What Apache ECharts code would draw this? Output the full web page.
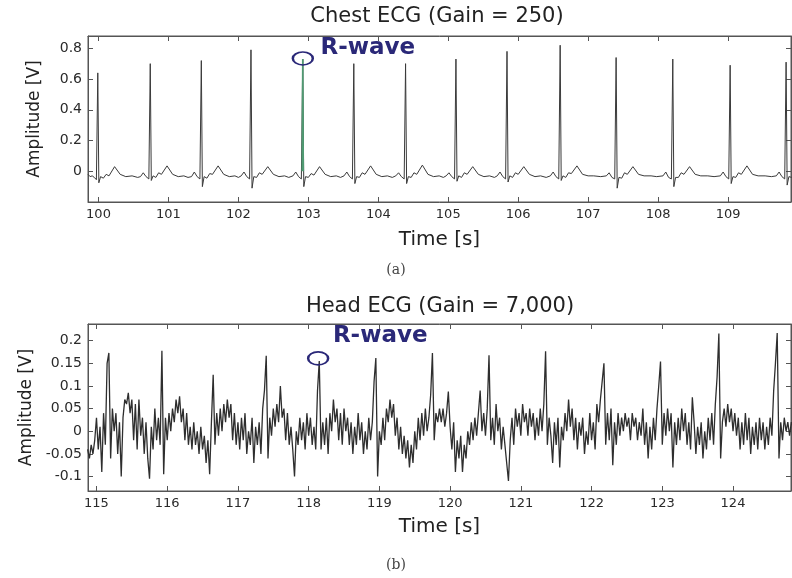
<!DOCTYPE html>
<html>
<head>
<meta charset="utf-8">
<script src="https://cdn.jsdelivr.net/npm/echarts@6/dist/echarts.min.js"></script>
<style>html,body{margin:0;padding:0;background:#fff}#c{width:792px;height:578px}</style>
</head>
<body>
<div id="c"></div>
<script>
// ---------- Data ----------
const chestXTicks = [100, 101, 102, 103, 104, 105, 106, 107, 108, 109];
const chestYTicks = [0, 0.2, 0.4, 0.6, 0.8];
const headXTicks = [115, 116, 117, 118, 119, 120, 121, 122, 123, 124];
const headYTicks = [-0.1, -0.05, 0, 0.05, 0.1, 0.15, 0.2];

// Chest ECG: [time s, amplitude V]
const chestEcg = [
  [99.85,-0.02],[99.88,-0.035],[99.91,-0.03],[99.94,-0.04],[99.97,-0.055],[99.99,0.64],[100.005,-0.075],[100.03,-0.035],[100.07,-0.045],[100.11,-0.02],[100.15,-0.03],[100.23,0.03],[100.31,-0.02],[100.39,-0.035],[100.48,-0.03],[100.56,-0.04],
  [100.60,-0.035],[100.64,-0.01],[100.68,-0.035],[100.72,-0.05],[100.74,0.70],[100.755,-0.06],[100.78,-0.03],[100.82,-0.04],[100.86,-0.01],[100.90,-0.02],[100.98,0.035],[101.06,-0.02],[101.14,-0.035],[101.22,-0.03],[101.28,-0.04],
  [101.33,-0.035],[101.37,-0.005],[101.41,-0.035],[101.45,-0.05],[101.47,0.72],[101.485,-0.10],[101.51,-0.035],[101.55,-0.045],[101.59,-0.015],[101.63,-0.02],[101.71,0.035],[101.79,-0.02],[101.87,-0.035],[101.95,-0.03],[102.00,-0.04],
  [102.04,-0.03],[102.08,-0.005],[102.12,-0.035],[102.16,-0.05],[102.18,0.79],[102.195,-0.11],[102.22,-0.035],[102.26,-0.04],[102.30,-0.01],[102.34,-0.02],[102.42,0.03],[102.50,-0.02],[102.58,-0.035],[102.66,-0.03],[102.72,-0.04],
  [102.78,-0.03],[102.82,-0.005],[102.86,-0.035],[102.90,-0.05],[102.92,0.73],[102.935,-0.10],[102.96,-0.035],[103.00,-0.04],[103.04,-0.015],[103.08,-0.025],[103.16,0.03],[103.24,-0.02],[103.32,-0.035],[103.40,-0.03],[103.46,-0.04],
  [103.51,-0.03],[103.55,-0.005],[103.59,-0.035],[103.63,-0.05],[103.65,0.70],[103.665,-0.08],[103.69,-0.035],[103.73,-0.04],[103.77,-0.01],[103.81,-0.02],[103.89,0.035],[103.97,-0.02],[104.05,-0.035],[104.13,-0.03],[104.20,-0.04],
  [104.25,-0.03],[104.29,-0.01],[104.33,-0.035],[104.37,-0.05],[104.39,0.70],[104.405,-0.08],[104.43,-0.035],[104.47,-0.04],[104.51,-0.01],[104.55,-0.02],[104.63,0.04],[104.71,-0.02],[104.79,-0.035],[104.87,-0.03],[104.93,-0.04],
  [104.97,-0.03],[105.01,-0.01],[105.05,-0.035],[105.09,-0.05],[105.11,0.73],[105.125,-0.065],[105.15,-0.03],[105.19,-0.04],[105.23,-0.01],[105.27,-0.02],[105.35,0.03],[105.43,-0.02],[105.51,-0.035],[105.59,-0.03],[105.66,-0.04],
  [105.70,-0.03],[105.74,-0.005],[105.78,-0.035],[105.82,-0.05],[105.84,0.78],[105.855,-0.07],[105.88,-0.03],[105.92,-0.04],[105.96,-0.01],[106.00,-0.02],[106.08,0.03],[106.16,-0.02],[106.24,-0.035],[106.32,-0.03],[106.40,-0.04],
  [106.46,-0.03],[106.50,-0.005],[106.54,-0.035],[106.58,-0.05],[106.60,0.82],[106.615,-0.06],[106.64,-0.03],[106.68,-0.04],[106.72,-0.01],[106.76,-0.015],[106.84,0.035],[106.92,-0.02],[107.00,-0.03],[107.08,-0.03],[107.18,-0.035],
  [107.26,-0.03],[107.30,-0.01],[107.34,-0.04],[107.38,-0.05],[107.40,0.74],[107.415,-0.11],[107.44,-0.04],[107.48,-0.045],[107.52,-0.01],[107.56,-0.02],[107.64,0.03],[107.72,-0.02],[107.80,-0.03],[107.90,-0.03],[107.98,-0.035],
  [108.07,-0.03],[108.11,-0.005],[108.15,-0.04],[108.19,-0.05],[108.21,0.73],[108.225,-0.10],[108.25,-0.04],[108.29,-0.04],[108.33,-0.01],[108.37,-0.02],[108.45,0.03],[108.53,-0.02],[108.61,-0.03],[108.71,-0.03],[108.80,-0.035],
  [108.89,-0.03],[108.93,-0.005],[108.97,-0.035],[109.01,-0.05],[109.03,0.69],[109.045,-0.08],[109.07,-0.035],[109.11,-0.04],[109.15,-0.01],[109.19,-0.02],[109.27,0.035],[109.35,-0.02],[109.43,-0.03],[109.53,-0.03],[109.62,-0.035],
  [109.69,-0.03],[109.73,-0.005],[109.77,-0.035],[109.81,-0.05],[109.83,0.71],[109.845,-0.09],[109.87,-0.035],[109.91,-0.04]
];
// Highlighted (green) R-wave in the chest trace
const chestRHighlight = [[102.912,0.0],[102.92,0.73],[102.928,0.0]];
const chestRCircle = [[102.921, 0.734]];

// Head ECG: amplitude (V), sampled every headStep seconds from headStart
const headStart = 114.875;
const headStep = 0.025;
const headEcg = [
  -0.04,-0.06,-0.03,-0.05,-0.02,0.03,-0.04,0.01,-0.09,0.04,-0.03,0.15,0.173,-0.06,0.05,0,0.04,-0.05,0.02,-0.1,0.03,0.07,0.06,0.085,0.04,0.07,-0.02,0.06,-0.04,0.07,-0.01,0.03,-0.05,0.02,-0.06,-0.105,0.01,-0.04,0.05,-0.02,
  0.03,-0.03,0.178,-0.095,0.03,-0.02,0.04,0,0.05,0.02,0.07,0.04,0.077,0.02,0.05,-0.02,0.04,-0.03,0.01,-0.04,0.02,-0.03,0,-0.05,0.01,-0.04,-0.01,-0.07,-0.02,-0.095,0.02,0.125,-0.03,0.04,-0.01,0.05,0,0.06,0.02,0.07,
  0.03,0.06,-0.02,0.04,-0.03,0.02,-0.04,0.03,-0.02,0.04,-0.05,0,-0.03,0.03,-0.07,0.01,-0.03,0.02,-0.05,0.05,0.09,0.167,-0.06,0.03,-0.01,0.05,0.01,0.06,0.02,0.1,0.03,0.05,-0.02,0.04,-0.03,0.01,-0.04,-0.1,0,-0.03,
  0.03,-0.02,0.02,-0.04,0.04,-0.01,0.03,-0.03,0.01,-0.04,0.09,0.155,-0.04,0.02,-0.03,0.03,-0.05,0.04,0,0.07,0.02,0.05,-0.02,0.04,-0.03,0.05,0,0.03,-0.03,0.02,-0.05,0.01,-0.03,0.04,-0.02,0.02,-0.05,0,-0.04,0.03,
  -0.02,0.02,0.11,0.162,-0.1,0,-0.03,0.03,-0.02,0.05,0.02,0.07,0.03,0.06,-0.01,0.03,-0.04,0.01,-0.05,-0.01,-0.06,-0.02,-0.08,-0.03,-0.07,0,-0.04,0.03,-0.02,0.04,-0.01,0.05,0,0.03,0.08,0.173,-0.02,0.04,0.02,0.05,
  0.02,0.05,0.01,0.04,0.088,0.01,-0.04,0.02,-0.09,-0.02,-0.06,-0.01,-0.09,-0.03,-0.06,0,-0.03,0.02,-0.02,0.03,-0.01,0.04,0.09,0,0.04,-0.01,0.05,0.168,-0.02,0.03,-0.03,0.06,0,0.03,-0.04,0.01,-0.03,-0.07,-0.11,-0.02,
  0.03,-0.03,0.05,0.01,0.04,-0.01,0.06,0.02,0.04,-0.01,0.05,0.01,0.04,-0.02,0.03,-0.01,0.05,0,0.06,0.177,-0.03,0.03,-0.01,-0.07,0.02,-0.03,0.03,-0.08,0.01,-0.02,0.04,0,0.07,0.01,0.05,-0.02,0.03,-0.04,0.02,-0.01,
  0.03,-0.05,0,-0.03,0.04,-0.02,0.02,-0.04,0.06,0.02,0.07,0.11,0.15,-0.03,0.04,-0.02,0.05,-0.075,0.02,-0.03,0.04,-0.01,0.03,0,0.04,0.01,0.03,-0.02,0.04,0.01,0.03,-0.02,0.02,-0.01,0.05,-0.03,0.02,-0.06,0.01,-0.04,
  0.03,-0.02,0.05,0.1,0.154,-0.03,0.04,-0.01,0.05,0,0.04,-0.08,0.02,-0.03,0.03,-0.02,0.05,0,0.04,-0.03,0.02,-0.04,0.075,0.02,-0.05,0.01,-0.03,0.02,-0.06,0,-0.04,0.03,-0.02,0.04,-0.03,0.06,0.12,0.216,-0.06,0.02,
  0.05,0.01,0.06,0.02,0.05,0,0.04,-0.01,0.03,-0.04,0.02,-0.03,0.04,-0.02,0.03,-0.05,0.01,-0.03,0.02,-0.04,0.03,-0.02,0.02,-0.04,0.01,-0.03,0.03,-0.01,0.09,0.15,0.217,-0.06,0.02,-0.02,0.03,0,0.02,-0.01,0.02,0.01
];
const headRCircle = [[118.134, 0.161]];

// ---------- Chart ----------
const FONT = 'DejaVu Sans';
const headData = headEcg.map((v, i) => [+(headStart + i * headStep).toFixed(3), v]);
const chart = echarts.init(document.getElementById('c'), null, {renderer: 'canvas'});

const axisColor = '#555';
function xAx(gridIndex, min, max, ticks, pos, showLabel) {
  return {
    type: 'value', gridIndex, min, max, position: pos,
    axisLine: {show: true, onZero: false, lineStyle: {color: axisColor, width: 1}},
    axisTick: {show: true, inside: true, length: 5, customValues: ticks, lineStyle: {color: axisColor}},
    axisLabel: {show: showLabel, customValues: ticks, margin: 6, color: '#2a2a2a', fontFamily: FONT, fontSize: 13},
    splitLine: {show: false},
    name: showLabel ? 'Time [s]' : '', nameLocation: 'middle', nameGap: 28,
    nameTextStyle: {fontFamily: FONT, fontSize: 20, color: '#222'}
  };
}
function yAx(gridIndex, min, max, ticks, pos, showLabel) {
  return {
    type: 'value', gridIndex, min, max, position: pos,
    axisLine: {show: true, onZero: false, lineStyle: {color: axisColor, width: 1}},
    axisTick: {show: true, inside: true, length: 5, customValues: ticks, lineStyle: {color: axisColor}},
    axisLabel: {show: showLabel, customValues: ticks, margin: 6, color: '#2a2a2a', fontFamily: FONT, fontSize: 14,
      formatter: v => String(+v.toFixed(3))},
    splitLine: {show: false},
    name: showLabel ? 'Amplitude [V]' : '', nameLocation: 'middle', nameGap: 45,
    nameTextStyle: {fontFamily: FONT, fontSize: 17, color: '#222'}
  };
}

const option = {
  animation: false,
  backgroundColor: '#fff',
  grid: [
    {left: 88, top: 36, width: 703, height: 166, show: true, borderColor: axisColor, borderWidth: 1},
    {left: 88, top: 324, width: 703, height: 167, show: true, borderColor: axisColor, borderWidth: 1}
  ],
  xAxis: [
    xAx(0, 99.85, 109.9, chestXTicks, 'bottom', true),
    xAx(0, 99.85, 109.9, chestXTicks, 'top', false),
    Object.assign(xAx(1, 114.88, 124.82, headXTicks, 'bottom', true), {nameGap: 26}),
    xAx(1, 114.88, 124.82, headXTicks, 'top', false)
  ],
  yAxis: [
    yAx(0, -0.2, 0.88, chestYTicks, 'left', true),
    yAx(0, -0.2, 0.88, chestYTicks, 'right', false),
    yAx(1, -0.132, 0.237, headYTicks, 'left', true),
    yAx(1, -0.132, 0.237, headYTicks, 'right', false)
  ],
  series: [
    {type: 'line', xAxisIndex: 0, yAxisIndex: 0, data: chestEcg, showSymbol: false,
     lineStyle: {color: '#3a3a3a', width: 1}, z: 2},
    {type: 'line', xAxisIndex: 0, yAxisIndex: 0, data: chestRHighlight, showSymbol: false,
     lineStyle: {color: '#4f9a72', width: 1.6}, z: 3},
    {type: 'scatter', xAxisIndex: 0, yAxisIndex: 0, data: chestRCircle, symbol: 'circle', symbolSize: [20, 13],
     itemStyle: {color: 'rgba(0,0,0,0)', borderColor: '#2a2878', borderWidth: 2, opacity: 1}, z: 4,
     label: {show: true, formatter: 'R-wave', position: [29, -3], align: 'left', verticalAlign: 'middle',
       fontFamily: FONT, fontWeight: 'bold', fontSize: 23, color: '#2a2878'}},
    {type: 'line', xAxisIndex: 2, yAxisIndex: 2, data: headData, showSymbol: false,
     lineStyle: {color: '#2e2e2e', width: 1.3}, z: 2},
    {type: 'scatter', xAxisIndex: 2, yAxisIndex: 2, data: headRCircle, symbol: 'circle', symbolSize: [20, 13],
     itemStyle: {color: 'rgba(0,0,0,0)', borderColor: '#2a2878', borderWidth: 2, opacity: 1}, z: 4,
     label: {show: true, formatter: 'R-wave', position: [26, -15], align: 'left', verticalAlign: 'middle',
       fontFamily: FONT, fontWeight: 'bold', fontSize: 23, color: '#2a2878'}}
  ],
  graphic: [
    {type: 'text', x: 437, y: 17, style: {text: 'Chest ECG (Gain = 250)', font: '21px "DejaVu Sans"', fill: '#222', align: 'center', verticalAlign: 'middle'}},
    {type: 'text', x: 440, y: 307, style: {text: 'Head ECG (Gain = 7,000)', font: '21px "DejaVu Sans"', fill: '#222', align: 'center', verticalAlign: 'middle'}},
    {type: 'text', x: 396, y: 270, style: {text: '(a)', font: '14px "DejaVu Serif"', fill: '#444', align: 'center', verticalAlign: 'middle'}},
    {type: 'text', x: 396, y: 565, style: {text: '(b)', font: '14px "DejaVu Serif"', fill: '#444', align: 'center', verticalAlign: 'middle'}}
  ]
};
chart.setOption(option);
</script>
</body>
</html>
